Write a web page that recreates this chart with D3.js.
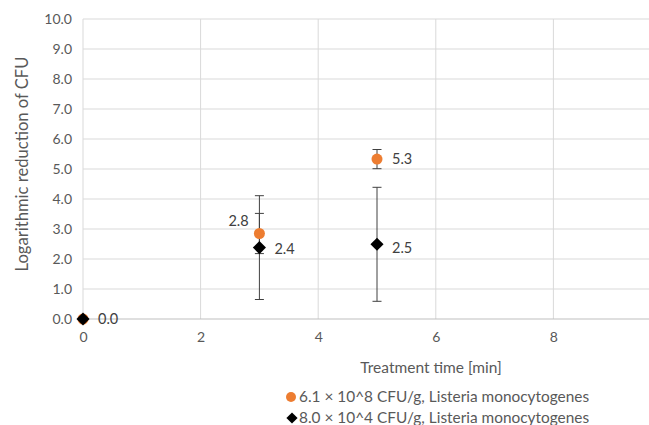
<!DOCTYPE html>
<html><head><meta charset="utf-8">
<script src="https://cdn.jsdelivr.net/npm/d3@7"></script>
<style>body{margin:0;background:#fff}svg{display:block}text{font-family:Lato,"Open Sans",sans-serif}</style>
</head><body>
<svg id="c" width="649" height="425"></svg>
<script>
const times = [0, 3, 5];
const seriesA = [0.0, 2.85, 5.33];
const errA = [0.0, 0.67, 0.32];
const labelsA = ["", "2.8", "5.3"];
const seriesB = [0.0, 2.38, 2.49];
const errB = [0.0, 1.73, 1.9];
const labelsB = ["0.0", "2.4", "2.5"];
const yTicks = [0,1,2,3,4,5,6,7,8,9,10];
const xTicks = [0,2,4,6,8];
const legendNames = ["6.1 × 10^8 CFU/g, Listeria monocytogenes", "8.0 × 10^4 CFU/g, Listeria monocytogenes"];

const svg = d3.select("#c");
const x = d3.scaleLinear().domain([0,10]).range([83,671]);
const y = d3.scaleLinear().domain([0,10]).range([319,19]);
const textCol = "#595959";

// gridlines
svg.append("g").selectAll("line").data(yTicks.filter(d=>d>0)).join("line")
  .attr("x1",x(0)).attr("x2",649).attr("y1",d=>y(d)).attr("y2",d=>y(d))
  .attr("stroke","#d9d9d9").attr("stroke-width",1);
svg.append("g").selectAll("line").data(xTicks.filter(d=>d>0)).join("line")
  .attr("x1",d=>x(d)).attr("x2",d=>x(d)).attr("y1",y(10)).attr("y2",y(0))
  .attr("stroke","#d9d9d9").attr("stroke-width",1);
// axis lines
svg.append("line").attr("x1",x(0)).attr("x2",x(0)).attr("y1",y(10)).attr("y2",y(0)).attr("stroke","#d9d9d9");
svg.append("line").attr("x1",x(0)).attr("x2",649).attr("y1",y(0)).attr("y2",y(0)).attr("stroke","#bfbfbf");

// tick labels
const yAxis = d3.axisLeft(y).tickValues(yTicks).tickFormat(d3.format(".1f")).tickSize(0).tickPadding(11);
const gy = svg.append("g").attr("transform",`translate(${x(0)},0)`).call(yAxis);
gy.select(".domain").remove();
gy.selectAll("text").attr("fill",textCol).style("font-size","14px").style("font-family","Lato");
const xAxis = d3.axisBottom(x).tickValues(xTicks).tickFormat(d3.format("d")).tickSize(0).tickPadding(13);
const gx = svg.append("g").attr("transform",`translate(0,${y(0)})`).call(xAxis);
gx.select(".domain").remove();
gx.selectAll("text").attr("fill",textCol).style("font-size","14px").style("font-family","Lato");

// axis titles
svg.append("text").attr("x",431).attr("y",373).attr("text-anchor","middle").attr("fill",textCol)
  .style("font-size","15.5px").text("Treatment time [min]");
svg.append("text").attr("transform",`translate(28,164) rotate(-90)`).attr("text-anchor","middle")
  .attr("fill",textCol).style("font-size","16.6px").text("Logarithmic reduction of CFU");

// error bars
function errBars(vals, errs){
  const g = svg.append("g");
  times.forEach((t,i)=>{
    if(errs[i]<=0) return;
    const cx = x(t), y1 = y(vals[i]+errs[i]), y2 = y(vals[i]-errs[i]);
    g.append("line").attr("x1",cx).attr("x2",cx).attr("y1",y1).attr("y2",y2).attr("stroke","#404040").attr("stroke-width",1);
    [y1,y2].forEach(yy=>g.append("line").attr("x1",cx-4.5).attr("x2",cx+4.5).attr("y1",yy).attr("y2",yy).attr("stroke","#404040").attr("stroke-width",1));
  });
}
errBars(seriesB, errB);
errBars(seriesA, errA);

// markers
const orange = "#ed7d31";
svg.append("g").selectAll("circle").data(times).join("circle")
  .attr("cx",d=>x(d)).attr("cy",(d,i)=>y(seriesA[i])).attr("r",5.5).attr("fill",orange);
const diamond = d3.symbol().type(d3.symbolDiamond2).size(110);
svg.append("g").selectAll("path").data(times).join("path")
  .attr("transform",(d,i)=>`translate(${x(d)},${y(seriesB[i])})`).attr("d",diamond).attr("fill","#000");

// data labels
const lblA = [null,{dx:-31,dy:-8},{dx:15,dy:5}];
const lblB = [{dx:15,dy:5},{dx:15,dy:6},{dx:15,dy:9}];
times.forEach((t,i)=>{
  if(labelsA[i]) svg.append("text").attr("x",x(t)+lblA[i].dx).attr("y",y(seriesA[i])+lblA[i].dy).attr("fill","#404040").style("font-size","14.5px").text(labelsA[i]);
  if(labelsB[i]) svg.append("text").attr("x",x(t)+lblB[i].dx).attr("y",y(seriesB[i])+lblB[i].dy).attr("fill","#404040").style("font-size","14.5px").text(labelsB[i]);
});

// legend
const lg = svg.append("g");
lg.append("circle").attr("cx",291).attr("cy",397).attr("r",5).attr("fill",orange);
lg.append("text").attr("x",299).attr("y",402).attr("fill",textCol).style("font-size","15.4px").text(legendNames[0]);
lg.append("path").attr("transform","translate(292,418)").attr("d",d3.symbol().type(d3.symbolDiamond2).size(80)).attr("fill","#000");
lg.append("text").attr("x",299).attr("y",423).attr("fill",textCol).style("font-size","15.4px").text(legendNames[1]);
</script>
</body></html>
